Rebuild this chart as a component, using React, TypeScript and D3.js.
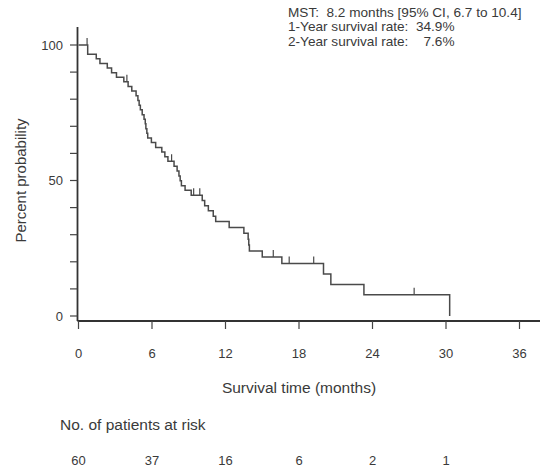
import React from "react";
import * as d3 from "d3";

// Kaplan-Meier step data (months, survival % after the drop)
const stepMonths = [
  0, 0.75, 1.45, 1.75, 2.35, 2.7, 3.1, 3.7, 4.05, 4.35, 4.7, 4.85, 4.95, 5.05, 5.2,
  5.35, 5.45, 5.5, 5.58, 5.65, 5.95, 6.3, 6.8, 7.05, 7.3, 7.8, 8.05, 8.2, 8.3, 8.4,
  8.7, 9.2, 10.1, 10.3, 10.6, 11.0, 11.2, 12.3, 13.5, 13.85, 13.9, 13.95, 15.0,
  16.6, 20.0, 20.6, 23.3, 30.3,
];
const stepSurvival = [
  100, 96.6, 94.9, 93.2, 91.5, 89.8, 88.1, 86.4, 84.7, 83.0, 81.3, 79.5, 77.8, 76.1,
  74.3, 72.6, 70.9, 69.1, 67.4, 65.7, 64.0, 62.2, 60.5, 58.8, 57.1, 55.3, 53.5, 51.7,
  49.9, 48.1, 46.4, 44.6, 42.6, 40.7, 38.8, 36.8, 34.9, 32.7, 30.5, 28.3, 26.2, 24.0,
  21.8, 19.4, 15.5, 11.6, 7.8, 0,
];
const censorMonths = [0.7, 3.95, 7.6, 9.4, 9.9, 15.9, 17.2, 19.2, 27.4];

const xTicks = [0, 6, 12, 18, 24, 30, 36];
const yTicks = [0, 10, 20, 30, 40, 50, 60, 70, 80, 90, 100];
const yTickLabels = [0, 50, 100];
const atRiskMonths = [0, 6, 12, 18, 24, 30];
const atRiskCounts = [60, 37, 16, 6, 2, 1];
const annotation = [
  "MST:  8.2 months [95% CI, 6.7 to 10.4]",
  "1-Year survival rate:  34.9%",
  "2-Year survival rate:    7.6%",
];

const W = 540;
const H = 467;
const FONT = "'Liberation Sans', Arial, Helvetica, sans-serif";

export default function App() {
  const x = d3.scaleLinear().domain([0, 36]).range([78.5, 519.5]);
  const y = d3.scaleLinear().domain([0, 100]).range([316, 45]);
  const axisY = 321;
  const axisX = 77.5;

  const pts: [number, number][] = stepMonths.map((m, i) => [m, stepSurvival[i]]);
  const line = d3
    .line<[number, number]>()
    .x((d) => x(d[0]))
    .y((d) => y(d[1]))
    .curve(d3.curveStepAfter);

  const bis = d3.bisector((d: number) => d).right;
  const survAt = (t: number) => stepSurvival[Math.max(0, bis(stepMonths, t) - 1)];

  const textCol = "#3a3a3a";

  return (
    <svg
      width={W}
      height={H}
      style={{ position: "absolute", left: 0, top: 0, background: "#fff" }}
      fontFamily={FONT}
    >
      {/* annotation */}
      {annotation.map((t, i) => (
        <text
          key={i}
          x={288}
          y={12 + i * 14.5}
          dominantBaseline="central"
          fontSize={13.6}
          fill={textCol}
          xmlSpace="preserve"
          style={{ whiteSpace: "pre" }}
        >
          {t}
        </text>
      ))}

      {/* y axis */}
      <line x1={axisX} x2={axisX} y1={27} y2={axisY} stroke="#333" strokeWidth={1.8} />
      {yTicks.map((v) => (
        <line key={v} x1={70} x2={axisX} y1={y(v)} y2={y(v)} stroke="#444" strokeWidth={1.2} />
      ))}
      {yTickLabels.map((v) => (
        <text
          key={v}
          x={63}
          y={y(v)}
          textAnchor="end"
          dominantBaseline="central"
          fontSize={13}
          fill={textCol}
        >
          {v}
        </text>
      ))}
      <text
        transform={`translate(20,${(y(0) + y(100)) / 2}) rotate(-90)`}
        textAnchor="middle"
        dominantBaseline="central"
        fontSize={15}
        fill={textCol}
      >
        Percent probability
      </text>

      {/* x axis */}
      <line x1={axisX} x2={W} y1={axisY} y2={axisY} stroke="#333" strokeWidth={1.8} />
      {xTicks.map((v) => (
        <line key={v} x1={x(v)} x2={x(v)} y1={axisY} y2={axisY + 8} stroke="#444" strokeWidth={1.2} />
      ))}
      {xTicks.map((v) => (
        <text
          key={v}
          x={x(v)}
          y={353}
          textAnchor="middle"
          dominantBaseline="central"
          fontSize={13}
          fill={textCol}
        >
          {v}
        </text>
      ))}
      <text
        x={(x(0) + x(36)) / 2}
        y={387}
        textAnchor="middle"
        dominantBaseline="central"
        fontSize={15.5}
        fill={textCol}
      >
        Survival time (months)
      </text>

      {/* curve */}
      <path d={line(pts) ?? ""} fill="none" stroke="#4a4a4a" strokeWidth={1.5} />
      {censorMonths.map((c) => (
        <line
          key={c}
          x1={x(c)}
          x2={x(c)}
          y1={y(survAt(c))}
          y2={y(survAt(c)) - 7}
          stroke="#4a4a4a"
          strokeWidth={1.2}
        />
      ))}

      {/* at risk */}
      <text x={60} y={424} dominantBaseline="central" fontSize={15.5} fill={textCol}>
        No. of patients at risk
      </text>
      {atRiskMonths.map((m, i) => (
        <text
          key={m}
          x={x(m)}
          y={460}
          textAnchor="middle"
          dominantBaseline="central"
          fontSize={13}
          fill={textCol}
        >
          {atRiskCounts[i]}
        </text>
      ))}
    </svg>
  );
}
